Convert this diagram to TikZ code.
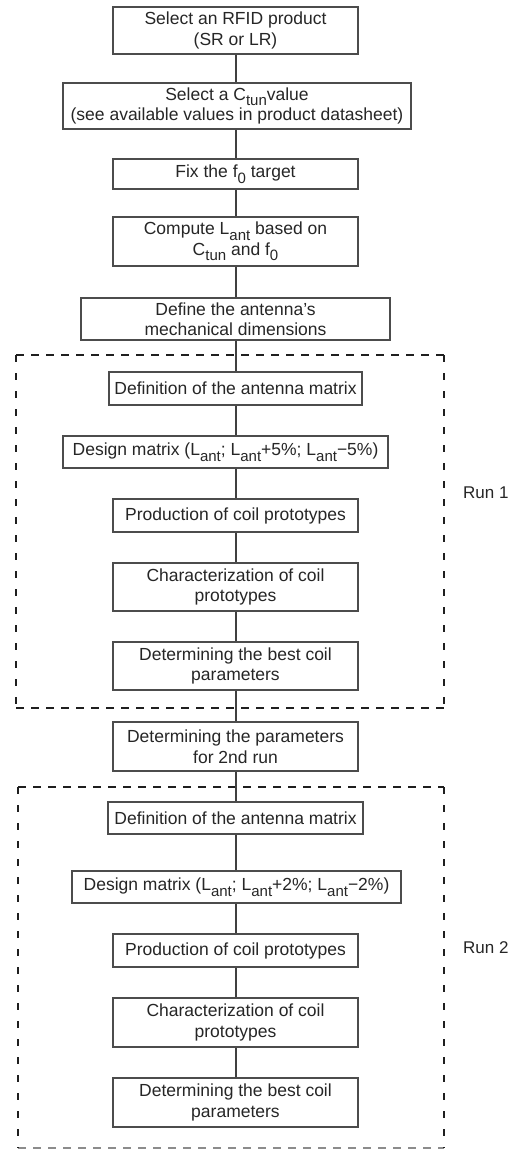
\documentclass[tikz,border=0pt]{standalone}
\usepackage{fontspec}
\setmainfont{Liberation Sans}
\newcommand\sbs[1]{\raisebox{-0.32em}{\fontsize{15}{15}\selectfont #1}}
\newcommand\mns{−}
\begin{document}
\begin{tikzpicture}[x=1pt,y=-1pt,
  box/.style={draw=black!70,line width=1.3pt,text=black!85,inner sep=0pt,align=center,
    font=\fontsize{17.5}{20.5}\selectfont},
  conn/.style={draw=black!75,line width=1.3pt},
  hdash/.style={draw=black!88,line width=2.6pt,dash pattern=on 8pt off 7pt},
  vdash/.style={draw=black!88,line width=2.6pt,dash pattern=on 7pt off 11pt},
  lbl/.style={anchor=west,inner sep=0pt,text=black!85,font=\fontsize{17}{20}\selectfont}]
\fill[white] (0,0) rectangle (518,1150);
\useasboundingbox (0,0) rectangle (518,1150);
\coordinate (col) at (236,0);
% run frames
\draw[hdash] (16,355) -- (444,355);
\draw[hdash] (16,708) -- (444,708);
\draw[vdash] (16,355) -- (16,708);
\draw[vdash] (444,355) -- (444,708);
\draw[hdash] (18,787) -- (444,787);
\draw[hdash,draw=black!45] (18,1148) -- (444,1148);
\draw[vdash] (18,787) -- (18,1148);
\draw[vdash] (444,787) -- (444,1148);
% boxes
\node[box,minimum width=245,minimum height=47,fill=white] (b1) at (235.5,30.5) {Select an RFID product\\(SR or LR)};
\node[box,minimum width=348,minimum height=46,fill=white] (b2) at (237,106) {Select a C\sbs{tun}value\\(see available values in product datasheet)};
\node[box,minimum width=245,minimum height=30,fill=white] (b3) at (235.5,174) {Fix the f\sbs{0} target};
\node[box,minimum width=245,minimum height=49,fill=white] (b4) at (235.5,241.5) {Compute L\sbs{ant} based on\\C\sbs{tun} and f\sbs{0}};
\node[box,minimum width=309,minimum height=42,fill=white] (b5) at (235.5,319) {Define the antenna's\\mechanical dimensions};
\node[box,minimum width=253,minimum height=33,fill=white] (b6) at (235.5,388.5) {Definition of the antenna matrix};
\node[box,minimum width=325,minimum height=32,fill=white] (b7) at (225.5,452) {Design matrix (L\sbs{ant}; L\sbs{ant}+5\%; L\sbs{ant}\mns{}5\%)};
\node[box,minimum width=245,minimum height=33,fill=white] (b8) at (235.5,515.5) {Production of coil prototypes};
\node[box,minimum width=245,minimum height=48,fill=white] (b9) at (235.5,587) {Characterization of coil\\prototypes};
\node[box,minimum width=245,minimum height=48,fill=white] (b10) at (235.5,666) {Determining the best coil\\parameters};
\node[box,minimum width=245,minimum height=49,fill=white] (b11) at (235.5,746.5) {Determining the parameters\\for 2nd run};
\node[box,minimum width=255,minimum height=32,fill=white] (b12) at (235.5,818) {Definition of the antenna matrix};
\node[box,minimum width=329,minimum height=32,fill=white] (b13) at (236.5,887) {Design matrix (L\sbs{ant}; L\sbs{ant}+2\%; L\sbs{ant}\mns{}2\%)};
\node[box,minimum width=245,minimum height=33,fill=white] (b14) at (235.5,950.5) {Production of coil prototypes};
\node[box,minimum width=245,minimum height=49,fill=white] (b15) at (235.5,1022.5) {Characterization of coil\\prototypes};
\node[box,minimum width=245,minimum height=49,fill=white] (b16) at (235.5,1102.5) {Determining the best coil\\parameters};
% connectors
\foreach \a/\b in {b1/b2,b2/b3,b3/b4,b4/b5,b5/b6,b6/b7,b7/b8,b8/b9,b9/b10,b10/b11,b11/b12,b12/b13,b13/b14,b14/b15,b15/b16}
  \draw[conn] (\a.south -| col) -- (\b.north -| col);
% labels
\node[lbl] (run1) at (463,493) {Run 1};
\node[lbl] (run2) at (463,948) {Run 2};
\end{tikzpicture}
\end{document}
